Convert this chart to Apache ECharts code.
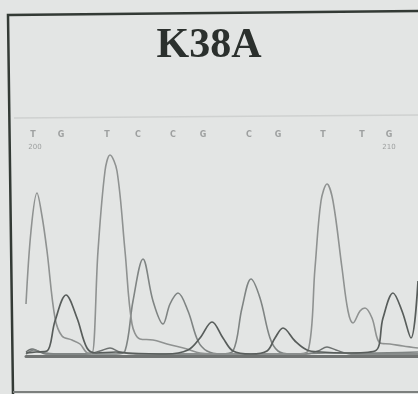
<!DOCTYPE html>
<html><head><meta charset="utf-8">
<script src="https://cdn.jsdelivr.net/npm/echarts@6/dist/echarts.min.js"></script>
<style>html,body{margin:0;padding:0;background:#e3e5e4;}#c{width:418px;height:394px;}</style>
</head><body><div id="c"></div>
<script>
// Base calls and positions (scan units along x)
const baseLetters = ['T','G','T','C','C','G','C','G','T','T','G'];
const basePos = [7,35,81,112,147,177,223,252,297,336,363];
const posLabels = ['200','210'];
const posLabelX = [9,363];

// Trace signals [scan, intensity]
const traceT = [[0,52],[5,125],[11,163],[16,140],[21,105],[29,38],[36,20],[46,16],[54,12],[62,3],[66,3],[72,105],[79,185],[84,201],[91,185],[99,105],[106,32],[114,17],[127,16],[141,12],[161,7],[174,3],[200,2],[240,2],[270,2],[282,5],[289,88],[295,155],[301,172],[307,155],[316,88],[322,45],[327,33],[334,45],[339,48],[346,38],[354,13],[364,12],[377,10],[392,8]];
const traceG = [[0,3],[10,4],[21,5],[29,35],[40,61],[51,38],[61,8],[70,3],[90,4],[101,3],[140,2],[162,6],[174,18],[186,34],[197,18],[207,5],[225,2],[241,5],[249,18],[257,28],[269,15],[281,6],[295,4],[320,3],[349,5],[357,38],[367,63],[376,45],[385,18],[392,75]];
const traceC = [[0,2],[8,6],[14,4],[30,2],[60,2],[90,2],[99,5],[107,55],[117,97],[127,55],[137,32],[144,52],[152,63],[162,45],[172,15],[181,5],[195,2],[207,5],[216,48],[225,77],[234,58],[244,18],[252,5],[265,2],[300,3],[340,3],[392,4]];
const traceA = [[0,4],[6,7],[12,5],[20,2],[60,2],[74,5],[84,8],[94,4],[110,2],[200,2],[280,2],[292,5],[301,9],[310,6],[325,2],[392,2]];

const chart = echarts.init(document.getElementById('c'));
function trace(data, color, w) {
  return {type:'line', data:data, smooth:0.35, showSymbol:false, symbol:'none',
    lineStyle:{color:color, width:w}, z:3, silent:true};
}
chart.setOption({
  backgroundColor:'#e3e5e4',
  animation:false,
  title:{text:'K38A', left:'center', top:20,
    textStyle:{fontFamily:'Liberation Serif', fontWeight:'bold', fontSize:42, color:'#2b302d'}},
  grid:{left:26, right:0, top:120, bottom:38},
  xAxis:{type:'value', min:0, max:392, axisTick:{show:false}, axisLabel:{show:false},
    splitLine:{show:false}, axisLine:{show:true, lineStyle:{color:'#717473', width:3}}},
  yAxis:{type:'value', min:0, max:236, show:false, splitLine:{show:false}},
  graphic:[
    {type:'polyline', shape:{points:[[13,394],[8,15],[418,11]]}, style:{stroke:'#333a35', lineWidth:2.5, fill:null}, z:10},
    {type:'line', shape:{x1:13,y1:392,x2:418,y2:392}, style:{stroke:'#7c807e', lineWidth:2}, z:10},
    {type:'line', shape:{x1:14,y1:118,x2:418,y2:115}, style:{stroke:'#cfd1d0', lineWidth:1.5}, z:1}
  ],
  series:[
    trace(traceA, '#6d7170', 1.4),
    trace(traceC, '#7f8483', 1.6),
    trace(traceT, '#8f9291', 1.6),
    trace(traceG, '#585d5b', 1.7),
    {type:'scatter', symbolSize:0, silent:true, z:4,
      data: baseLetters.map((b,i)=>({value:[basePos[i],221], name:b})),
      label:{show:true, position:'inside', formatter:p=>p.name,
        fontFamily:'DejaVu Sans', fontSize:8, fontWeight:'bold', color:'#8c8f8e'}},
    {type:'scatter', symbolSize:0, silent:true, z:4,
      data: posLabels.map((t,i)=>({value:[posLabelX[i],209], name:t})),
      label:{show:true, position:'inside', formatter:p=>p.name,
        fontFamily:'DejaVu Sans', fontSize:7, color:'#8c8f8e'}}
  ]
});
</script></body></html>
